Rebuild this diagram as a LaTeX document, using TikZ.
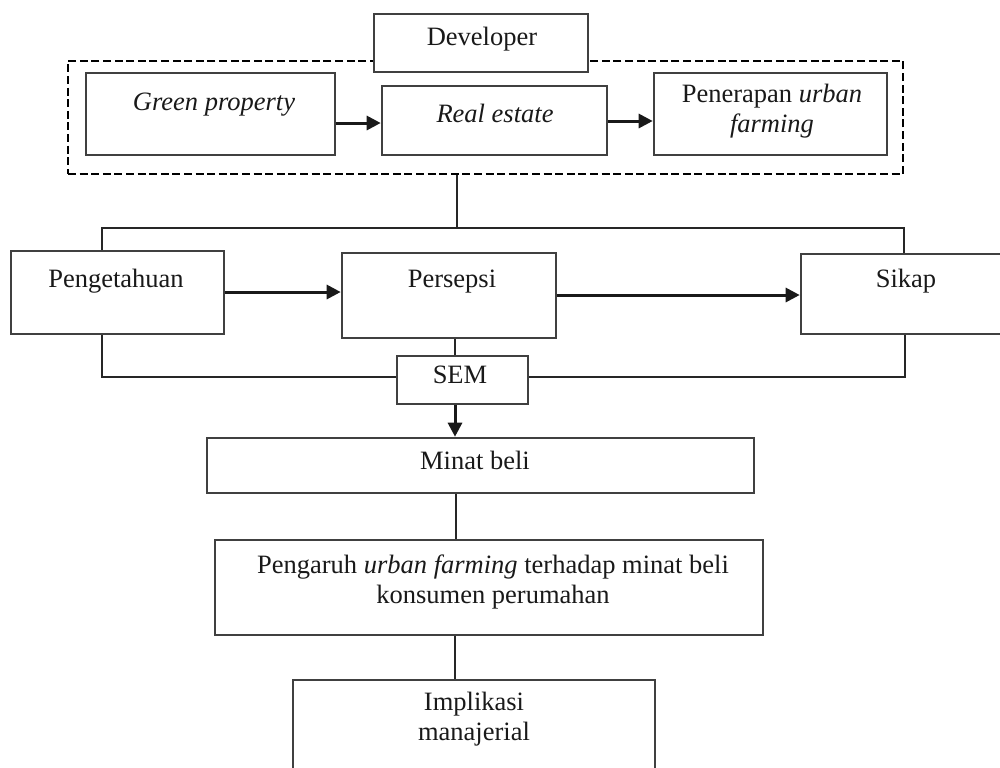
\documentclass[tikz,border=0pt]{standalone}
\usepackage{fontspec}
\setmainfont{Liberation Serif}
\usetikzlibrary{fit,arrows.meta}
\begin{document}
\begin{tikzpicture}[x=0.5pt,y=-0.5pt,
  box/.style={draw=black!75,line width=1.3pt,inner sep=0pt,rectangle},
  dbox/.style={draw=black,line width=1.3pt,dash pattern=on 4pt off 1.8pt,inner sep=0pt,rectangle},
  txt/.style={inner sep=0pt,anchor=base,align=center,font=\fontsize{13.25pt}{15pt}\selectfont,text=black!90},
  conn/.style={draw=black!85,line width=1.1pt},
  arr/.style={draw=black!90,line width=1.5pt,-{Triangle[length=7pt,width=7pt]}}]
\useasboundingbox (0,0) rectangle (1000,767);
% top group
\node[dbox,fit={(68,61) (903,174)}] (grp) {};
\node[box,fill=white,fit={(374,14) (588,72)}] (dev) {};
\node[txt] (devt) at (482,45) {Developer};
\node[box,fit={(86,73) (335,155)}] (gp) {};
\node[txt] (gpt) at (214,110) {\itshape Green property};
\node[box,fit={(382,86) (607,155)}] (re) {};
\node[txt] (ret) at (495,122) {\itshape Real estate};
\node[box,fit={(654,73) (887,155)}] (pen) {};
\node[txt] (pent) at (772,102) {Penerapan \itshape urban};
\node[txt] (pent2) at (772,132) {\itshape farming};
\draw[arr] (gp.east |- 0,123) -- (re.west |- 0,123);
\draw[arr] (re.east |- 0,121) -- (pen.west |- 0,121);
% middle row
\node[box,fit={(11,251) (224,334)}] (pg) {};
\node[txt] (pgt) at (116,287) {Pengetahuan};
\node[box,fit={(342,253) (556,338)}] (ps) {};
\node[txt] (pst) at (452,287) {Persepsi};
\node[box,fit={(801,254) (1010,334)}] (sk) {};
\node[txt] (skt) at (906,287) {Sikap};
\coordinate (top) at (457,228);
\draw[conn] (grp.south -| top) -- (top);
\draw[conn] (pg.north -| 102,0) -- (102,228) -- (904,228) -- (sk.north -| 904,0);
\draw[arr] (pg.east |- 0,292) -- (ps.west |- 0,292);
\draw[arr] (ps.east |- 0,295) -- (sk.west |- 0,295);
% SEM
\node[box,fit={(397,356) (528,404)}] (sem) {};
\node[txt] (semt) at (460,383) {SEM};
\draw[conn] (ps.south -| 455,0) -- (sem.north -| 455,0);
\draw[conn] (pg.south -| 102,0) -- (102,377) -- (sem.west |- 0,377);
\draw[conn] (sem.east |- 0,377) -- (905,377) -- (sk.south -| 905,0);
% lower chain
\node[box,fit={(207,438) (754,493)}] (mb) {};
\node[txt] (mbt) at (475,469) {Minat beli};
\draw[arr] (sem.south -| 455,0) -- (mb.north -| 455,0);
\node[box,fit={(215,540) (763,635)}] (pe) {};
\node[txt] (pet) at (493,573) {Pengaruh \textit{urban farming} terhadap minat beli};
\node[txt] (pet2) at (493,603) {konsumen perumahan};
\draw[conn] (mb.south -| 456,0) -- (pe.north -| 456,0);
\node[box,fit={(293,680) (655,790)}] (im) {};
\node[txt] (imt) at (474,710) {Implikasi};
\node[txt] (imt2) at (474,740) {manajerial};
\draw[conn] (pe.south -| 455,0) -- (im.north -| 455,0);
\end{tikzpicture}
\end{document}
